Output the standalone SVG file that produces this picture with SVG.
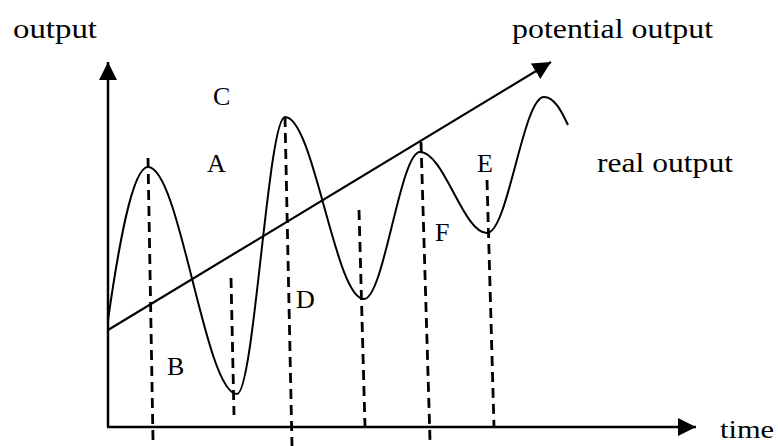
<svg xmlns="http://www.w3.org/2000/svg" width="778" height="446" viewBox="0 0 778 446">
<defs>
<style>
.t{font-family:"Liberation Serif","DejaVu Serif",serif;font-size:28px;fill:#000}
.l{font-family:"Liberation Serif","DejaVu Serif",serif;font-size:26px;fill:#000}
.ax{stroke:#000;stroke-width:2.5;fill:none}
.cv{stroke:#000;stroke-width:2;fill:none}
.ds{stroke:#000;stroke-width:2.8;stroke-dasharray:10 6;fill:none}
</style>
<marker id="ah" markerUnits="userSpaceOnUse" markerWidth="20" markerHeight="18" refX="18" refY="9" orient="auto">
<path d="M0,0 L18,9 L0,18 Z" fill="#000"/>
</marker>
</defs>
<rect width="778" height="446" fill="#fff"/>
<g id="axes">
<path class="ax" d="M108,427 L108,62" marker-end="url(#ah)"/>
<path class="ax" d="M107,427 L696,427" marker-end="url(#ah)"/>
</g>
<g id="potential">
<path class="ax" d="M108,330 L551,62" marker-end="url(#ah)" style="stroke-width:2.2"/>
</g>
<g id="real">
<path class="cv" d="M108,320 C118,250 132,167 148,167 C180,167 205,394 237,394 C254,394 268,117 285,117 C314,117 335,299 364,299 C384,299 400,152 420,152 C444,152 463,233 487,233 C508,233 523,97 544,97 C554,97 561,110 568,125"/>
</g>
<g id="connectors">
<path class="ds" d="M148,158 L153,440"/>
<path class="ds" d="M231,278 L234,415"/>
<path class="ds" d="M285,117 L292,446"/>
<path class="ds" d="M359,210 L365,427"/>
<path class="ds" d="M421,142 L430,440"/>
<path class="ds" d="M487,180 L494,427"/>
</g>
<g id="labels">
<text class="t" x="13" y="38" textLength="84" lengthAdjust="spacingAndGlyphs">output</text>
<text class="t" x="512" y="38" textLength="201" lengthAdjust="spacingAndGlyphs">potential output</text>
<text class="t" x="597" y="172" textLength="136" lengthAdjust="spacingAndGlyphs">real output</text>
<text class="t" x="720" y="438" style="font-size:25px" textLength="54" lengthAdjust="spacingAndGlyphs">time</text>
<text class="l" x="213" y="105">C</text>
<text class="l" x="207" y="172">A</text>
<text class="l" x="167" y="375">B</text>
<text class="l" x="296" y="308">D</text>
<text class="l" x="477" y="172">E</text>
<text class="l" x="435" y="241">F</text>
</g>
</svg>
